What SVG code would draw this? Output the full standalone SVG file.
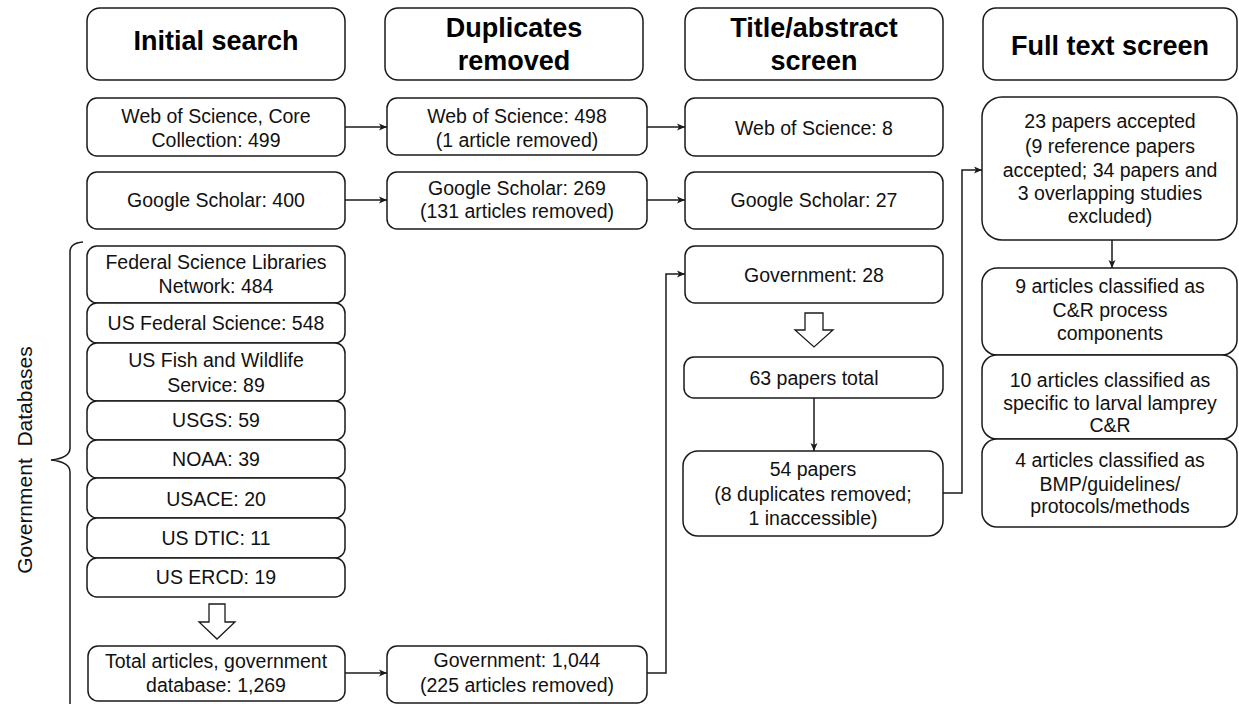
<svg xmlns="http://www.w3.org/2000/svg" width="1239" height="704" viewBox="0 0 1239 704">
<style>
.b{fill:#fff;stroke:#1a1a1a;stroke-width:1.5}
.t{font-family:"Liberation Sans",Arial,sans-serif;font-size:19.5px;text-anchor:middle;fill:#111}
.h{font-family:"Liberation Sans",Arial,sans-serif;font-size:27px;font-weight:bold;text-anchor:middle;fill:#000}
.c{fill:none;stroke:#1a1a1a;stroke-width:1.5}
.blk{fill:#fff;stroke:#1a1a1a;stroke-width:1.3}
</style>
<defs>
<marker id="ah" markerUnits="userSpaceOnUse" markerWidth="9" markerHeight="8" refX="8" refY="4" orient="auto">
<path d="M0,0.5 L8,4 L0,7.5 L2,4 Z" fill="#1a1a1a"/>
</marker>
</defs>
<rect width="1239" height="704" fill="#fff"/>

<g id="hdr-initial"><rect class="b" x="87" y="8" width="258" height="72" rx="13"/><text class="h" x="216" y="50">Initial search</text></g>
<g id="hdr-dup"><rect class="b" x="385" y="8" width="258" height="72" rx="13"/><text class="h" x="514" y="37">Duplicates</text><text class="h" x="514" y="70">removed</text></g>
<g id="hdr-title"><rect class="b" x="685" y="8" width="258" height="72" rx="13"/><text class="h" x="814" y="37">Title/abstract</text><text class="h" x="814" y="70">screen</text></g>
<g id="hdr-full"><rect class="b" x="983" y="8" width="254" height="72" rx="13"/><text class="h" x="1110" y="55">Full text screen</text></g>

<g id="wos-init"><rect class="b" x="87" y="98" width="258" height="58" rx="10"/><text class="t" x="216" y="123">Web of Science, Core</text><text class="t" x="216" y="147">Collection: 499</text></g>
<g id="gs-init"><rect class="b" x="87" y="172" width="258" height="57" rx="10"/><text class="t" x="216" y="207">Google Scholar: 400</text></g>
<g id="wos-dup"><rect class="b" x="387" y="98" width="260" height="57" rx="10"/><text class="t" x="517" y="123">Web of Science: 498</text><text class="t" x="517" y="147">(1 article removed)</text></g>
<g id="gs-dup"><rect class="b" x="387" y="172" width="260" height="57" rx="10"/><text class="t" x="517" y="195">Google Scholar: 269</text><text class="t" x="517" y="218">(131 articles removed)</text></g>
<g id="wos-title"><rect class="b" x="685" y="98" width="258" height="58" rx="10"/><text class="t" x="814" y="135">Web of Science: 8</text></g>
<g id="gs-title"><rect class="b" x="685" y="172" width="258" height="57" rx="10"/><text class="t" x="814" y="207">Google Scholar: 27</text></g>

<g id="fsln"><rect class="b" x="87" y="246" width="258" height="57" rx="10"/><text class="t" x="216" y="269">Federal Science Libraries</text><text class="t" x="216" y="293">Network: 484</text></g>
<g id="usfs"><rect class="b" x="87" y="303" width="258" height="40" rx="10"/><text class="t" x="216" y="330">US Federal Science: 548</text></g>
<g id="usfws"><rect class="b" x="87" y="343" width="258" height="58" rx="10"/><text class="t" x="216" y="367">US Fish and Wildlife</text><text class="t" x="216" y="392">Service: 89</text></g>
<g id="usgs"><rect class="b" x="87" y="401" width="258" height="39" rx="10"/><text class="t" x="216" y="427">USGS: 59</text></g>
<g id="noaa"><rect class="b" x="87" y="440" width="258" height="38" rx="10"/><text class="t" x="216" y="466">NOAA: 39</text></g>
<g id="usace"><rect class="b" x="87" y="478" width="258" height="40" rx="10"/><text class="t" x="216" y="506">USACE: 20</text></g>
<g id="dtic"><rect class="b" x="87" y="518" width="258" height="40" rx="10"/><text class="t" x="216" y="545">US DTIC: 11</text></g>
<g id="ercd"><rect class="b" x="87" y="558" width="258" height="39" rx="10"/><text class="t" x="216" y="584">US ERCD: 19</text></g>

<g id="total-gov"><rect class="b" x="88" y="646" width="257" height="55" rx="10"/><text class="t" x="216" y="668">Total articles, government</text><text class="t" x="216" y="692">database: 1,269</text></g>
<g id="gov-dup"><rect class="b" x="387" y="646" width="260" height="57" rx="10"/><text class="t" x="517" y="667">Government: 1,044</text><text class="t" x="517" y="692">(225 articles removed)</text></g>
<g id="gov-title"><rect class="b" x="685" y="246" width="258" height="57" rx="10"/><text class="t" x="814" y="282">Government: 28</text></g>
<g id="total63"><rect class="b" x="684" y="357" width="259" height="41" rx="10"/><text class="t" x="814" y="385">63 papers total</text></g>
<g id="p54"><rect class="b" x="683" y="451" width="260" height="85" rx="15"/><text class="t" x="813" y="476">54 papers</text><text class="t" x="813" y="501">(8 duplicates removed;</text><text class="t" x="813" y="525">1 inaccessible)</text></g>

<g id="acc23"><rect class="b" x="982" y="97" width="255" height="143" rx="20"/><text class="t" x="1110" y="128">23 papers accepted</text><text class="t" x="1110" y="153">(9 reference papers</text><text class="t" x="1110" y="177">accepted; 34 papers and</text><text class="t" x="1110" y="200">3 overlapping studies</text><text class="t" x="1110" y="223">excluded)</text></g>
<g id="cls9"><rect class="b" x="982" y="268" width="255" height="87" rx="15"/><text class="t" x="1110" y="293">9 articles classified as</text><text class="t" x="1110" y="317">C&amp;R process</text><text class="t" x="1110" y="340">components</text></g>
<g id="cls10"><rect class="b" x="982" y="355" width="255" height="84" rx="15"/><text class="t" x="1110" y="387">10 articles classified as</text><text class="t" x="1110" y="410">specific to larval lamprey</text><text class="t" x="1110" y="432">C&amp;R</text></g>
<g id="cls4"><rect class="b" x="982" y="439" width="255" height="88" rx="15"/><text class="t" x="1110" y="467">4 articles classified as</text><text class="t" x="1110" y="491">BMP/guidelines/</text><text class="t" x="1110" y="513">protocols/methods</text></g>

<g id="gov-label">
<path class="c" d="M83,242 Q70,243 70,252 V448 Q70,458 51,460 Q70,462 70,472 V706"/>
<text class="t" transform="translate(32,460) rotate(-90)" style="font-size:21px;white-space:pre" xml:space="preserve">Government  Databases</text>
</g>

<g id="block-arrows">
<polygon class="blk" points="209,604 225,604 225,622 235,622 217,639 199,622 209,622"/>
<polygon class="blk" points="805,313 823,313 823,330 833,330 814,347 795,330 805,330"/>
</g>

<g id="connectors">
<path class="c" d="M345,127 H387" marker-end="url(#ah)"/>
<path class="c" d="M345,200 H387" marker-end="url(#ah)"/>
<path class="c" d="M647,127 H685" marker-end="url(#ah)"/>
<path class="c" d="M647,200 H685" marker-end="url(#ah)"/>
<path class="c" d="M345,673 H387" marker-end="url(#ah)"/>
<path class="c" d="M647,673 H666 V274 H685" marker-end="url(#ah)"/>
<path class="c" d="M814,398 V451" marker-end="url(#ah)"/>
<path class="c" d="M943,493 H962 V170 H982" marker-end="url(#ah)"/>
<path class="c" d="M1112,240 V268" marker-end="url(#ah)"/>
</g>
</svg>
